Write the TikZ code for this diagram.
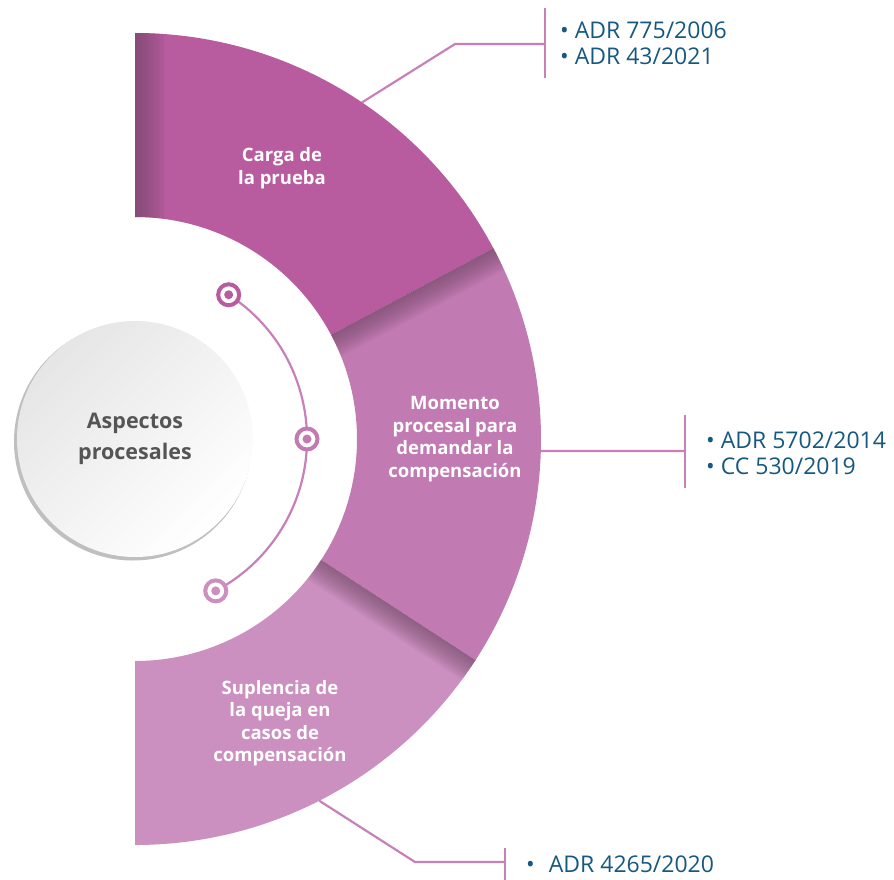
\documentclass[tikz,border=0pt]{standalone}
\usepackage{fontspec}
\setmainfont{Open Sans}
\definecolor{cargacol}{RGB}{184,92,159}
\definecolor{momentocol}{RGB}{194,122,178}
\definecolor{suplcol}{RGB}{204,144,192}
\definecolor{linkcol}{RGB}{200,128,186}
\definecolor{refcol}{RGB}{22,88,128}
\definecolor{hubtextcol}{RGB}{85,85,85}
\definecolor{shadowcol}{RGB}{110,70,100}
\begin{document}
\begin{tikzpicture}[x=1pt,y=1pt,
    seglabel/.style={text=white,font=\bfseries\fontsize{18.5}{22.5}\selectfont,align=center},
    reflist/.style={text=refcol,font=\fontsize{23}{26}\selectfont,align=left,anchor=west,inner sep=0},
    link/.style={draw=linkcol,line width=2.2},
    dot/.style={circle,draw=#1,fill=white,line width=4,minimum size=21,inner sep=0,
      path picture={\fill[#1] (path picture bounding box.center) circle[radius=4.5];}},
    hub/.style={circle,minimum size=236,inner sep=0,shade,top color=black!10,bottom color=white,
      shading angle=45,text=hubtextcol,font=\bfseries\fontsize{21.5}{31}\selectfont,align=center}]
  \useasboundingbox (-135,-440) rectangle (759,439);
  % sectors
  \fill[cargacol] (90:406) arc[start angle=90,end angle=28,radius=406] -- (28:222) arc[start angle=28,end angle=90,radius=222] -- cycle;
  \fill[momentocol] (28:406) arc[start angle=28,end angle=-33,radius=406] -- (-33:222) arc[start angle=-33,end angle=28,radius=222] -- cycle;
  \fill[suplcol] (-33:406) arc[start angle=-33,end angle=-90,radius=406] -- (-90:222) arc[start angle=-90,end angle=-33,radius=222] -- cycle;
  \begin{scope}
    \clip (90:406) arc[start angle=90,end angle=28,radius=406] -- (28:222) arc[start angle=28,end angle=90,radius=222] -- cycle;
    \foreach \k in {1,...,12}
      \fill[shadowcol,opacity=0.07] (0,200) rectangle (2.5*\k,420);
  \end{scope}
  \begin{scope}
    \clip (28:406) arc[start angle=28,end angle=-33,radius=406] -- (-33:222) arc[start angle=-33,end angle=28,radius=222] -- cycle;
    \foreach \k in {1,...,12}
      \fill[shadowcol,opacity=0.07,rotate=28] (200,0) rectangle (420,-2*\k);
  \end{scope}
  \begin{scope}
    \clip (-33:406) arc[start angle=-33,end angle=-90,radius=406] -- (-90:222) arc[start angle=-90,end angle=-33,radius=222] -- cycle;
    \foreach \k in {1,...,12}
      \fill[shadowcol,opacity=0.07,rotate=-33] (200,0) rectangle (420,-2*\k);
  \end{scope}
  \node[seglabel] (carga) at (147,271) {Carga de\\la prueba};
  \node[seglabel] (momento) at (320,0) {Momento\\procesal para\\demandar la\\compensación};
  \node[seglabel] (suplencia) at (145,-284) {Suplencia de\\la queja en\\casos de\\compensación};

  % hub and dots
  \fill[black!25] (-2,-2.5) circle[radius=119];
  \node[hub] (hub) at (0,0) {Aspectos\\procesales};
  \draw[link] (57:172) arc[start angle=57,end angle=-62,radius=172];
  \node[dot=cargacol] (d1) at (57:172) {};
  \node[dot=momentocol] (d2) at (0:172) {};
  \node[dot=suplcol] (d3) at (-62:172) {};

  % callouts
  \coordinate (c1a) at (56:406);
  \coordinate (c1b) at (320,395);
  \coordinate (c1c) at (410,395);
  \coordinate (bar1t) at (410,431);
  \coordinate (bar1b) at (410,361);
  \draw[link] (c1a) -- (c1b) -- (c1c);
  \draw[link] (bar1t) -- (bar1b);
  \node[reflist] (refs1) at (425,396) {\textbullet\ ADR 775/2006\\\textbullet\ ADR 43/2021};

  \coordinate (c2a) at (-1.7:406);
  \coordinate (c2b) at (550,-12);
  \coordinate (bar2t) at (550,24);
  \coordinate (bar2b) at (550,-49);
  \draw[link] (c2a) -- (c2b);
  \draw[link] (bar2t) -- (bar2b);
  \node[reflist] (refs2) at (571,-14) {\textbullet\ ADR 5702/2014\\\textbullet\ CC 530/2019};

  \coordinate (c3a) at (-63:406);
  \coordinate (c3b) at (280,-423);
  \coordinate (c3c) at (370,-423);
  \coordinate (bar3t) at (370,-409);
  \coordinate (bar3b) at (370,-445);
  \draw[link] (c3a) -- (c3b) -- (c3c);
  \draw[link] (bar3t) -- (bar3b);
  \node[reflist] (refs3) at (391,-425) {\textbullet\hspace{14pt}ADR 4265/2020};
\end{tikzpicture}
\end{document}
